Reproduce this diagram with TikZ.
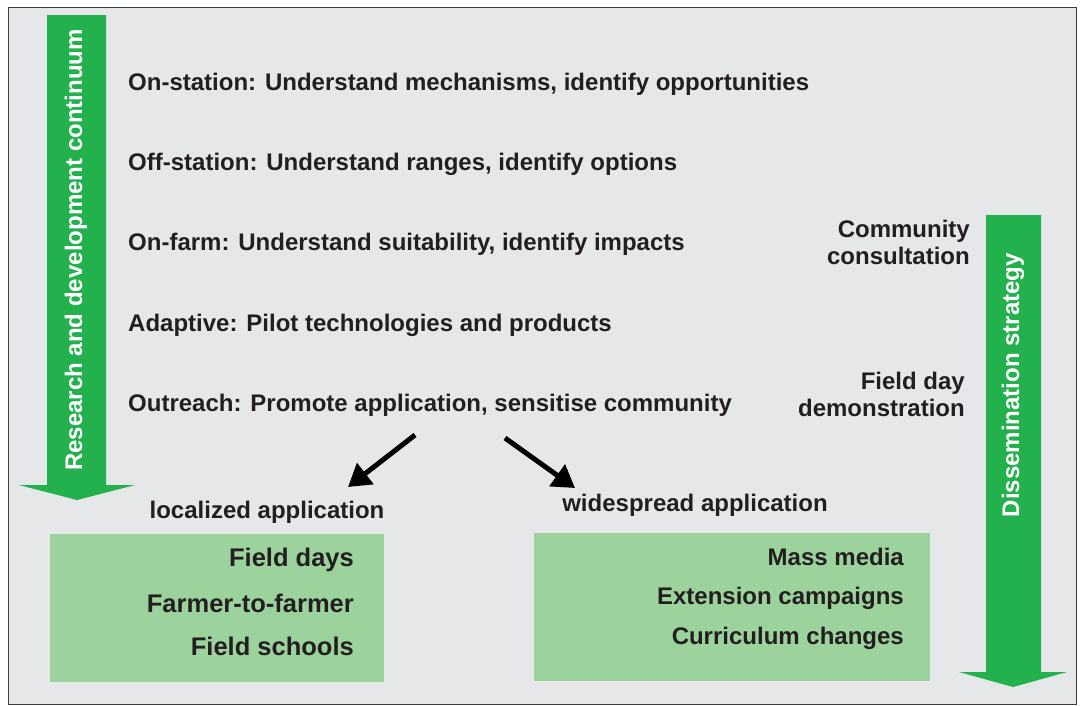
\documentclass[tikz,border=0pt]{standalone}
\usepackage{fontspec}
\setmainfont{Liberation Sans}
\usetikzlibrary{arrows.meta}
\definecolor{bggray}{RGB}{230,231,233}
\definecolor{framegray}{RGB}{60,60,60}
\definecolor{arrowgreen}{RGB}{34,177,76}
\definecolor{boxgreen}{RGB}{156,210,156}
\definecolor{txt}{RGB}{35,31,32}
\begin{document}
\begin{tikzpicture}[x=1pt,y=-1pt, font=\fontsize{24}{27}\selectfont\bfseries, text=txt,
  stage/.style={anchor=west, inner sep=0pt},
  side/.style={anchor=east, align=right, inner sep=0pt},
  item/.style={anchor=east, inner sep=0pt},
  vlabel/.style={rotate=90, text=white, inner sep=0pt},
  split/.style={line width=5pt, -{Triangle[length=22pt,width=26pt]}}]
\useasboundingbox (0,0) rectangle (1081,705);
\fill[white] (0,0) rectangle (1081,705);
\draw[framegray, fill=bggray] (8,7) rectangle (1076,704);

% R&D arrow
\fill[arrowgreen] (47,15) -- (106,15) -- (106,485) -- (135,485) -- (77,500) -- (19,485) -- (47,485) -- cycle;
\node[vlabel] (rd) at (76,250) {Research and development continuum};

% Dissemination arrow
\fill[arrowgreen] (986,215) -- (1041,215) -- (1041,672) -- (1067,672) -- (1013,687) -- (959,672) -- (986,672) -- cycle;
\node[vlabel] (ds) at (1013,385) {Dissemination strategy};

% stages
\node[stage] (s1) at (128,84) {On-station: Understand mechanisms, identify opportunities};
\node[stage] (s2) at (128,164) {Off-station: Understand ranges, identify options};
\node[stage] (s3) at (128,244) {On-farm: Understand suitability, identify impacts};
\node[stage] (s4) at (128,325) {Adaptive: Pilot technologies and products};
\node[stage] (s5) at (128,405) {Outreach: Promote application, sensitise community};

\node[side] (cc) at (970,242) {Community\\consultation};
\node[side] (fd) at (965,394) {Field day\\demonstration};

% split
\node (loc) at (267,512) {localized application};
\node (wide) at (695,505) {widespread application};
\coordinate (la) at (415,435);
\coordinate (lt) at (348,487);
\coordinate (ra) at (505,438);
\coordinate (rt) at (575,488);
\draw[split] (la) -- (lt);
\draw[split] (ra) -- (rt);

% boxes
\fill[boxgreen] (50,534) rectangle (384,682);
\begin{scope}[font=\fontsize{25.5}{28}\selectfont\bfseries]
\node[item] (l1) at (354,560) {Field days};
\node[item] (l2) at (354,603) {Farmer-to-farmer};
\node[item] (l3) at (354,646) {Field schools};
\end{scope}

\fill[boxgreen] (534,533) rectangle (930,681);
\node[item] (w1) at (904,557) {Mass media};
\node[item] (w2) at (904,598) {Extension campaigns};
\node[item] (w3) at (904,638) {Curriculum changes};
\end{tikzpicture}
\end{document}
